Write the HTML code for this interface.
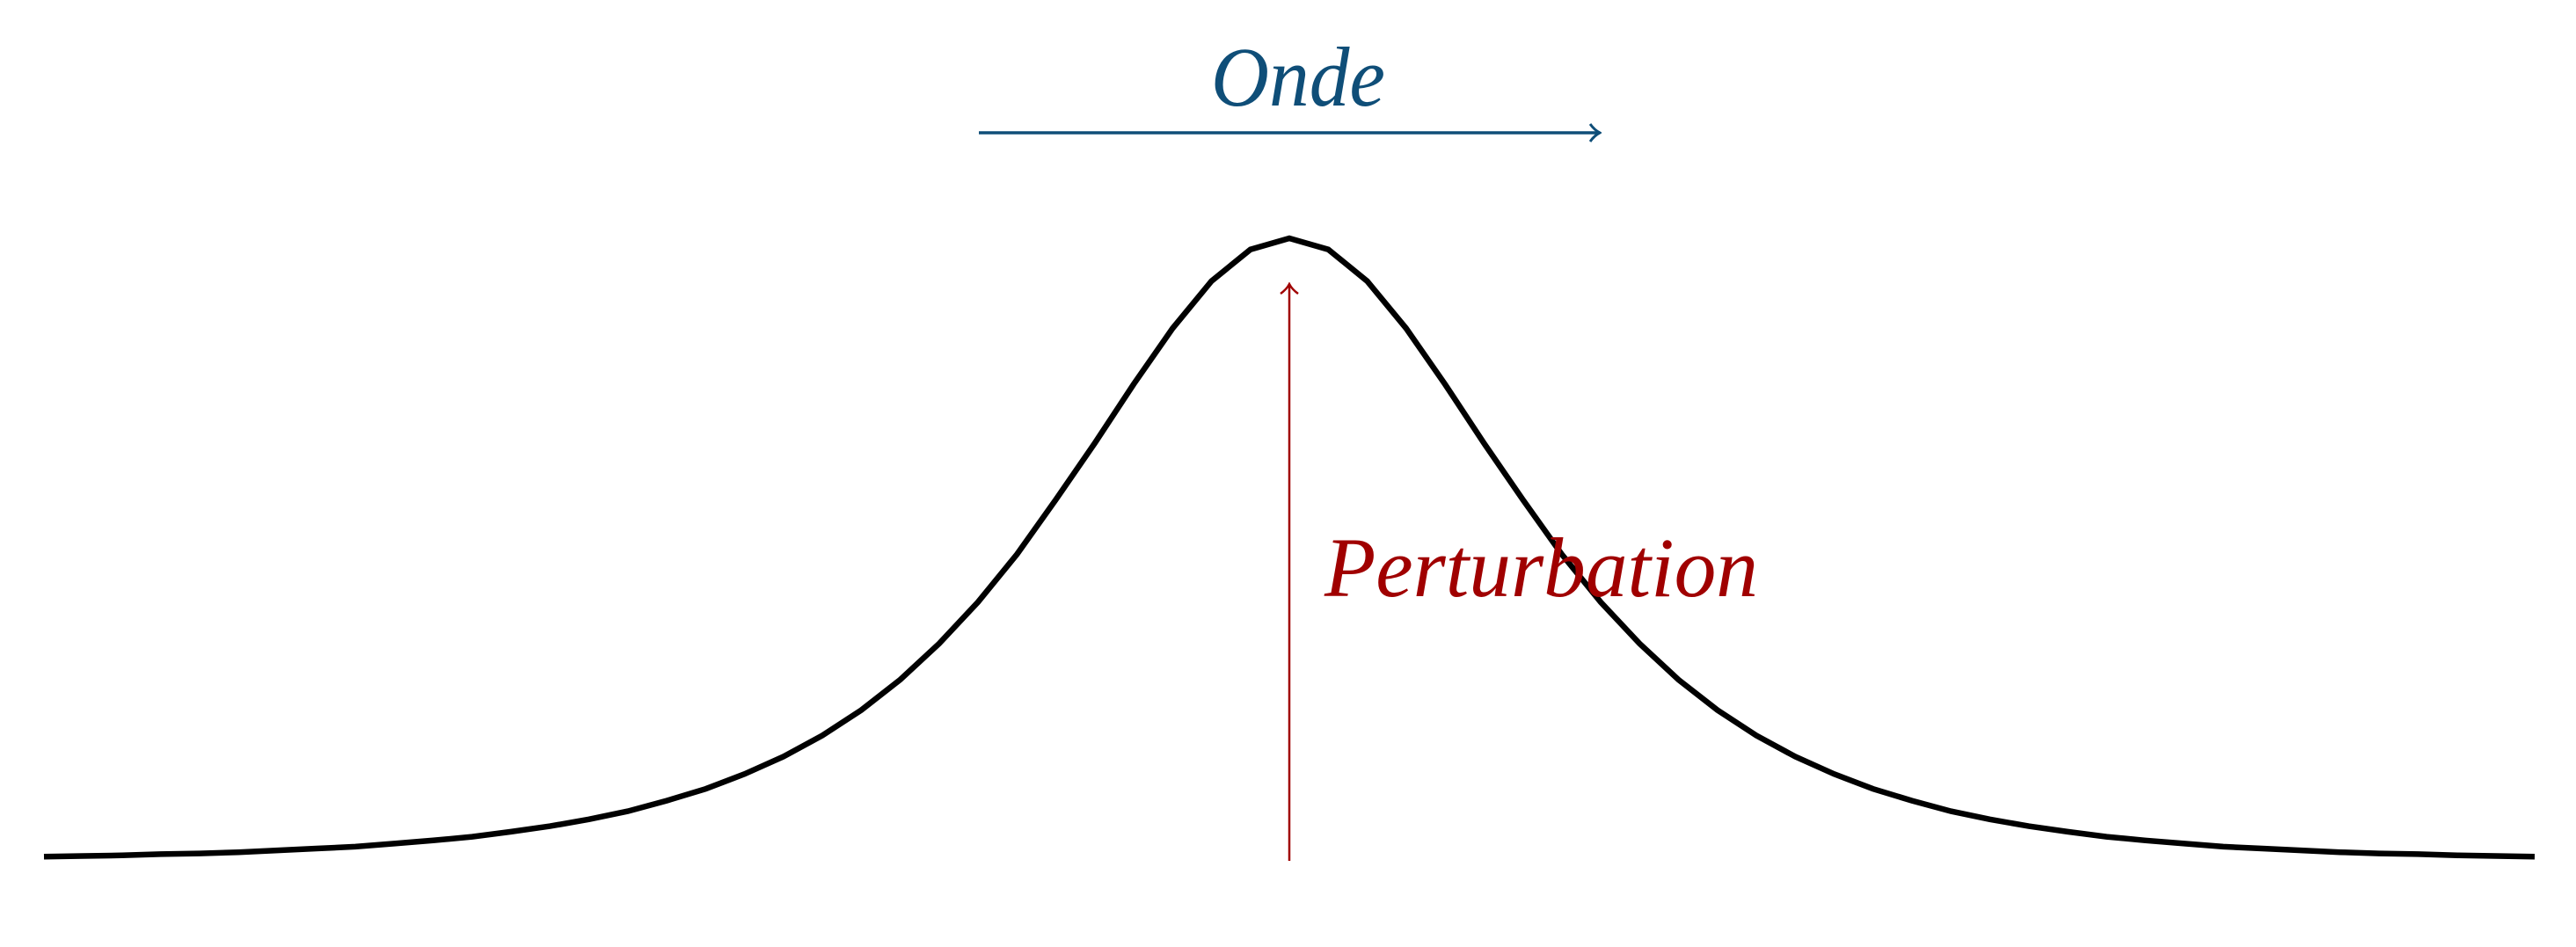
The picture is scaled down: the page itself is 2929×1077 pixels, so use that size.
<!DOCTYPE html>
<html><head><meta charset="utf-8"><style>
html,body{margin:0;padding:0;background:#fff;}
svg{display:block;}
</style></head><body>
<svg id="chart" width="2929" height="1077" viewBox="0 0 2929 1077" xmlns="http://www.w3.org/2000/svg">
  <defs>
    <marker id="ah-blue" markerWidth="14" markerHeight="22" refX="12" refY="11" orient="auto" markerUnits="userSpaceOnUse">
      <path d="M1,1 Q6,8 12,11 Q6,14 1,21" fill="none" stroke="#0f4e78" stroke-width="3"/>
    </marker>
    <marker id="ah-red" markerWidth="14" markerHeight="22" refX="12" refY="11" orient="auto" markerUnits="userSpaceOnUse">
      <path d="M1,1 Q6,8 12,11 Q6,14 1,21" fill="none" stroke="#a00000" stroke-width="2.5"/>
    </marker>
  </defs>
  <g id="plot"></g>
  <line x1="1113" y1="151" x2="1819" y2="151" stroke="#0f4e78" stroke-width="3.5" marker-end="url(#ah-blue)"/>
  <text x="1377" y="120" font-family="Liberation Serif, serif" font-style="italic" font-size="96" fill="#0f4e78" textLength="198" lengthAdjust="spacingAndGlyphs">Onde</text>
  <line x1="1466" y1="979" x2="1466" y2="323" stroke="#a00000" stroke-width="2.5" marker-end="url(#ah-red)"/>
  <text x="1506" y="678" font-family="Liberation Serif, serif" font-style="italic" font-size="96" fill="#a00000" textLength="493" lengthAdjust="spacingAndGlyphs">Perturbation</text>
</svg>
<script>
// Pulse profile (x in units, y relative amplitude)
const xHalf = [0,0.25,0.5,0.75,1,1.25,1.5,1.75,2,2.25,2.5,2.75,3,3.25,3.5,3.75,4,4.25,4.5,4.75,5,5.25,5.5,5.75,6,6.25,6.5,6.75,7,7.25,7.5,7.75,8];
const yHalf = [1,0.982,0.931,0.855,0.765,0.670,0.579,0.491,0.414,0.347,0.289,0.240,0.199,0.165,0.137,0.113,0.094,0.077,0.064,0.053,0.044,0.036,0.030,0.025,0.020,0.017,0.014,0.011,0.009,0.008,0.006,0.005,0.004];

const X0 = 50, X1 = 2882, xmin = -8, xmax = 8;
const Y0 = 977, Y1 = 271;
function sx(v){ return X0 + (v - xmin) / (xmax - xmin) * (X1 - X0); }
function sy(v){ return Y0 - v * (Y0 - Y1); }

const xs = [], ys = [];
for (let i = xHalf.length - 1; i > 0; i--) { xs.push(-xHalf[i]); ys.push(yHalf[i]); }
for (let i = 0; i < xHalf.length; i++) { xs.push(xHalf[i]); ys.push(yHalf[i]); }

const pts = xs.map((v, i) => sx(v).toFixed(1) + ',' + sy(ys[i]).toFixed(1)).join(' ');
const pl = document.createElementNS('http://www.w3.org/2000/svg', 'polyline');


pl.setAttribute('points', pts);
pl.setAttribute('fill', 'none');
pl.setAttribute('stroke', '#000');
pl.setAttribute('stroke-width', '6.5');
pl.setAttribute('stroke-linejoin', 'miter');
document.getElementById('plot').appendChild(pl);
</script>
</body></html>
